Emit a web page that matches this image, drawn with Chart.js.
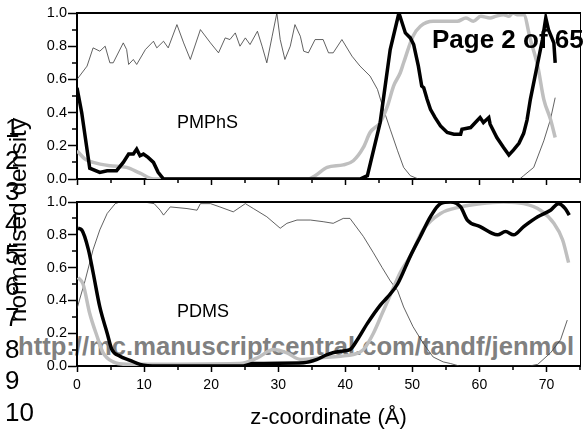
<!DOCTYPE html>
<html>
<head>
<meta charset="utf-8">
<script src="https://cdn.jsdelivr.net/npm/chart.js@4.4.1/dist/chart.umd.min.js"></script>
<style>
  html, body { margin: 0; padding: 0; background: #fff; }
  #page { position: relative; width: 588px; height: 431px; overflow: hidden;
          font-family: "Liberation Sans", Arial, sans-serif; color: #000; }
  .wrap { position: absolute; left: 0; width: 588px; }
  #topWrap { top: 0; height: 190px; }
  #botWrap { top: 190px; height: 241px; }
  .txt { position: absolute; white-space: nowrap; line-height: 1; }
  #url { left: 18px; top: 334px; font-size: 25.6px; font-weight: bold; color: #808080; }
  #pageNo { left: 432px; top: 26px; font-size: 26px; font-weight: bold; }
  .ln { left: 5px; font-size: 26px; }
  #ylab { left: 18px; top: 220px; font-size: 24.5px;
          transform: translate(-50%, -50%) rotate(-90deg); }
  .panel { font-size: 18px; left: 177px; }
</style>
</head>
<body>
<div id="page">
  <div class="txt" id="url">http://mc.manuscriptcentral.com/tandf/jenmol</div>
  <div class="wrap" id="topWrap"><canvas id="topChart" width="588" height="190"></canvas></div>
  <div class="wrap" id="botWrap"><canvas id="botChart" width="588" height="241"></canvas></div>
  <div class="txt panel" style="top:113px">PMPhS</div>
  <div class="txt panel" style="top:302px">PDMS</div>
  <div class="txt" id="ylab">normalised density</div>
  <div id="lines"></div>
  <div class="txt" id="pageNo">Page 2 of 65</div>
</div>
<script>
// ---- PMPhS panel (top) ----
const pmZThin = [0, 1.5, 2.4, 3.4, 4.2, 4.9, 5.4, 6.9, 7.4, 7.7, 8.4, 8.9, 10.2, 11.4, 11.9, 12.9, 13.6, 14.9, 15.9, 16.9,
  18.4, 19.9, 21.1, 22.1, 22.8, 23.6, 24.3, 25.1, 25.8, 26.9, 27.6, 28.3, 29.1, 29.8, 30.3, 31.0, 31.8, 32.5, 33.3, 33.8,
  34.5, 35.5, 36.7, 37.5, 38.2, 39.5, 41.0, 42.2, 43.7, 44.8, 45.7, 46.7, 47.8, 48.7, 49.7, 50.9, 66.0, 66.6, 68.1, 69.6,
  70.6, 71.3];
const pmThin = [.60, .68, .79, .77, .80, .70, .70, .82, .78, .69, .72, .69, .78, .83, .79, .83, .79, .93, .82, .72,
  .90, .82, .76, .85, .84, .88, .80, .85, .81, .89, .80, .70, .86, 1.0, .84, .72, .80, .93, .86, .77,
  .76, .84, .84, .76, .76, .84, .74, .68, .62, .54, .42, .30, .17, .07, .02, 0, 0, .02, .07, .23,
  .36, .49];

const pmZBlack = [0, .7, 1.9, 3.4, 4.5, 5.9, 6.9, 7.7, 8.4, 8.9, 9.4, 9.9, 10.6, 11.4, 12.1, 12.9, 42.2, 43.3, 45.2, 46.7,
  48.0, 48.96, 49.7, 50.2, 50.9, 51.4, 51.7, 52.2, 52.7, 53.4, 54.2, 55.2, 56.2, 57.2, 57.4, 58.7, 59.4, 60.1, 60.6, 61.4,
  61.6, 62.6, 63.6, 64.4, 65.1, 65.9, 66.6, 67.1, 67.6, 68.6, 69.4, 69.9, 70.3, 71.1, 71.3];
const pmBlack = [.55, .40, .065, .04, .05, .05, .10, .15, .15, .18, .14, .15, .13, .10, .04, 0, 0, .02, .34, .78,
  1.0, .88, .85, .81, .68, .56, .55, .48, .42, .37, .32, .28, .27, .27, .30, .31, .34, .37, .34, .37,
  .33, .25, .19, .145, .175, .215, .275, .355, .48, .68, .84, .97, .90, .82, .70];

const pmZGray = [0, 1.2, 2.4, 4.9, 7.4, 9.4, 11.4, 34.5, 35.5, 37.3, 39.7, 41.2, 42.7, 43.7, 45.2, 46.3, 47.2, 48.2, 48.7, 50.1,
  51.2, 53.1, 55.0, 56.7, 58.0, 59.1, 60.2, 61.6, 62.4, 63.6, 64.4, 65.0, 65.6, 66.6, 67.6, 68.7, 69.6, 70.6, 71.3];
const pmGray = [.17, .12, .10, .08, .07, .035, 0, 0, .02, .07, .085, .11, .19, .28, .34, .44, .56, .64, .70, .86,
  .92, .95, .95, .95, .97, .95, .98, .97, .98, .99, .98, 1.0, .99, .99, .84, .68, .48, .36, .25];

// ---- PDMS panel (bottom) ----
const pdZThin = [0, 1.2, 2.4, 3.4, 4.5, 5.7, 6.4, 8.0, 10.0, 11.5, 12.4, 12.9, 13.9, 16.4, 17.9, 18.4, 19.9, 21.3, 23.3, 25.1,
  26.3, 28.3, 30.3, 31.3, 32.8, 34.8, 36.7, 38.2, 39.7, 40.7, 42.7, 44.2, 45.5, 46.7, 47.8, 48.7, 50.1, 51.6, 53.1, 54.6,
  55.7, 57.0, 67.5, 68.7, 70.6, 72.1, 73.1];
const pdThin = [.35, .52, .71, .83, .93, .99, 1.0, 1.0, 1.0, .99, .95, .92, .97, .96, .95, .99, .99, .97, .94, .99,
  .96, .91, .84, .87, .89, .89, .88, .87, .90, .90, .79, .69, .60, .52, .46, .36, .24, .14, .055, .025,
  .015, 0, 0, .01, .08, .16, .28];

const pdZBlack = [.15, .7, 1.7, 2.4, 3.4, 4.5, 5.2, 6.4, 7.9, 9.4, 12.0, 24.8, 26.3, 33.8, 35.8, 37.3, 39.3, 40.7, 41.8, 43.3,
  45.2, 46.3, 47.8, 49.7, 51.2, 52.7, 54.2, 55.7, 57.2, 58.2, 60.1, 62.7, 63.9, 65.1, 66.6, 68.7, 70.6, 71.8, 72.8, 73.4];
const pdBlack = [.84, .83, .71, .57, .36, .20, .10, .06, .035, .01, 0, 0, .015, .02, .04, .07, .09, .10, .16, .26,
  .37, .42, .50, .67, .79, .91, .99, 1.0, .97, .89, .85, .80, .82, .80, .85, .91, .95, .99, .96, .92];

const pdZGray = [.15, .9, 1.9, 3.0, 3.9, 5.4, 7.4, 24.3, 26.9, 29.3, 31.3, 33.3, 36.3, 39.3, 41.2, 42.7, 44.2, 45.5, 47.0, 48.2,
  49.7, 51.6, 54.2, 57.2, 60.1, 63.6, 66.6, 69.1, 71.1, 72.4, 73.3];
const pdGray = [.54, .50, .32, .18, .08, .025, .01, .015, .05, .10, .08, .04, .05, .06, .07, .10, .20, .32, .46, .57,
  .67, .83, .93, .97, .99, 1.0, .99, .95, .87, .77, .63];

// ---- axes ----
const zMin = 0, zMax = 75, zStep = 10;
const yMajorStep = 0.2;
const yMinorTicks = [0.1, 0.3, 0.5, 0.7, 0.9];
const zMinorTicks = [5, 15, 25, 35, 45, 55, 65, 75];
const xTitle = 'z-coordinate (Å)';
const lineNumbers = ['1', '2', '3', '4', '5', '6', '7', '8', '9', '10'];

Chart.defaults.font.family = '"Liberation Sans", Arial, sans-serif';
Chart.defaults.color = '#000';

const pts = (zs, vs) => zs.map((z, i) => ({ x: z, y: vs[i] }));

function datasets(zB, vB, zG, vG, zT, vT, smooth) {
  return [
    { data: pts(zB, vB), borderColor: '#000', borderWidth: 3.5, cubicInterpolationMode: smooth ? 'monotone' : 'default', tension: 0 },
    { data: pts(zG, vG), borderColor: '#bfbfbf', borderWidth: 3.5, cubicInterpolationMode: 'monotone', tension: 0 },
    { data: pts(zT, vT), borderColor: '#3a3a3a', borderWidth: 0.8, tension: 0 }
  ];
}

// frame (top and right edges) plus minor tick marks
const framePlugin = {
  id: 'frame',
  afterDraw(chart) {
    const { ctx, chartArea: a, scales: { x, y } } = chart;
    ctx.save();
    ctx.strokeStyle = '#000';
    ctx.lineWidth = 2;
    ctx.beginPath(); ctx.moveTo(a.left - 1, a.top); ctx.lineTo(a.right + 1, a.top); ctx.stroke();
    ctx.lineWidth = 1;
    ctx.beginPath(); ctx.moveTo(a.right + 0.5, a.top); ctx.lineTo(a.right + 0.5, a.bottom); ctx.stroke();
    ctx.lineWidth = 1.5;
    ctx.beginPath();
    yMinorTicks.forEach(v => { const py = Math.round(y.getPixelForValue(v)); ctx.moveTo(a.left, py); ctx.lineTo(a.left - 5, py); });
    zMinorTicks.forEach(v => { const px = Math.round(x.getPixelForValue(v)); ctx.moveTo(px, a.bottom); ctx.lineTo(px, a.bottom + 4); });
    ctx.stroke();
    ctx.restore();
  }
};

function makeChart(id, sets, opts) {
  return new Chart(document.getElementById(id), {
    type: 'line',
    data: { datasets: sets },
    options: {
      responsive: false,
      animation: false,
      layout: { padding: { top: opts.top, right: 8, left: 0, bottom: 0 } },
      elements: { point: { radius: 0 } },
      plugins: { legend: { display: false }, tooltip: { enabled: false } },
      scales: {
        x: {
          type: 'linear', min: zMin, max: zMax,
          ticks: { stepSize: zStep, includeBounds: false, display: opts.labels, font: { size: 14 }, padding: 5 },
          grid: { drawOnChartArea: false, tickLength: 6, tickWidth: 1.5, tickColor: '#000' },
          border: { display: true, width: 2, color: '#000' },
          title: { display: opts.labels, text: xTitle, font: { size: 22 }, padding: { top: 0, bottom: 0 } },
          afterFit: s => { s.height = opts.xHeight; }
        },
        y: {
          min: 0, max: 1,
          ticks: { stepSize: yMajorStep, font: { size: 14.5 }, padding: 1, callback: v => v.toFixed(1) },
          grid: { drawOnChartArea: false, tickLength: 9, tickWidth: 1.5, tickColor: '#000' },
          border: { display: true, width: 2, color: '#000' },
          afterFit: s => { s.width = 77; }
        }
      }
    },
    plugins: [framePlugin]
  });
}

makeChart('topChart', datasets(pmZBlack, pmBlack, pmZGray, pmGray, pmZThin, pmThin, false),
  { top: 13, xHeight: 11, labels: false });
makeChart('botChart', datasets(pdZBlack, pdBlack, pdZGray, pdGray, pdZThin, pdThin, true),
  { top: 12, xHeight: 65, labels: true });

// margin line numbers
const holder = document.getElementById('lines');
lineNumbers.forEach((n, i) => {
  const d = document.createElement('div');
  d.className = 'txt ln';
  d.textContent = n;
  d.style.top = (137 + 31.55 * i - 22) + 'px';
  holder.appendChild(d);
});
</script>
</body>
</html>
